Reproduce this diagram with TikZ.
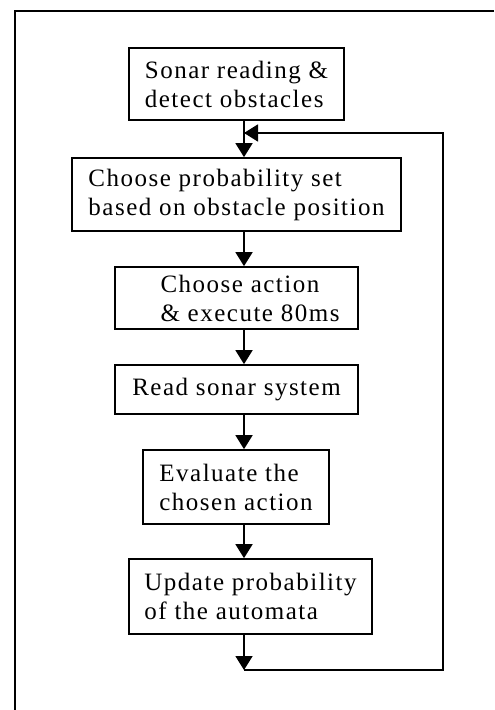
\documentclass[tikz,border=0pt]{standalone}
\usepackage{fontspec}
\setmainfont{Liberation Serif}[LetterSpace=6]
\usetikzlibrary{arrows.meta}
\tikzset{
  stepbox/.style={draw, line width=0.85pt, align=left, inner sep=0pt,
    font=\fontsize{12.5}{14.5}\selectfont},
  flow/.style={line width=0.85pt, -{Triangle[width=8.5pt,length=7pt]}},
}
\begin{document}
\begin{tikzpicture}[x=0.5pt,y=-0.5pt]
	\useasboundingbox (0,0) rectangle (494,710);
	\draw[line width=1pt] (494,11)--(15,11)--(15,710);
	\node[stepbox, minimum width=107.5pt, minimum height=36pt] (sonar) at (236.5,84) {Sonar reading \&\\detect obstacles};
	\node[stepbox, minimum width=164.5pt, minimum height=36.5pt] (probset) at (236.5,194.5) {Choose probability set\\based on obstacle position};
	\node[stepbox, minimum width=121.5pt, minimum height=31pt] (action) at (236.5,298) {\hspace*{13.5pt}Choose action\\\hspace*{13.5pt}\& execute 80ms};
	\node[stepbox, minimum width=121.5pt, minimum height=24.5pt] (readsys) at (236.5,389.5) {Read sonar system};
	\node[stepbox, minimum width=93pt, minimum height=37pt] (evaluate) at (236,487) {Evaluate the\\chosen action};
	\node[stepbox, minimum width=121.5pt, minimum height=37.5pt] (update) at (250.5,596.5) {Update probability\\of the automata};
	\coordinate (spine) at (244,0);
	\coordinate (loop) at (443,0);
	\coordinate (join) at (244,133);
	\coordinate (back) at (244,670);
	% main flow
	\draw[flow] (sonar.south -| spine)--(probset.north -| spine);
	\draw[flow] (probset.south -| spine)--(action.north -| spine);
	\draw[flow] (action.south -| spine)--(readsys.north -| spine);
	\draw[flow] (readsys.south -| spine)--(evaluate.north -| spine);
	\draw[flow] (evaluate.south -| spine)--(update.north -| spine);
	\draw[flow] (update.south -| spine)--(back);
	% feedback loop
	\draw[flow] (back)--(back -| loop)--(join -| loop)--(join);
\end{tikzpicture}
\end{document}
